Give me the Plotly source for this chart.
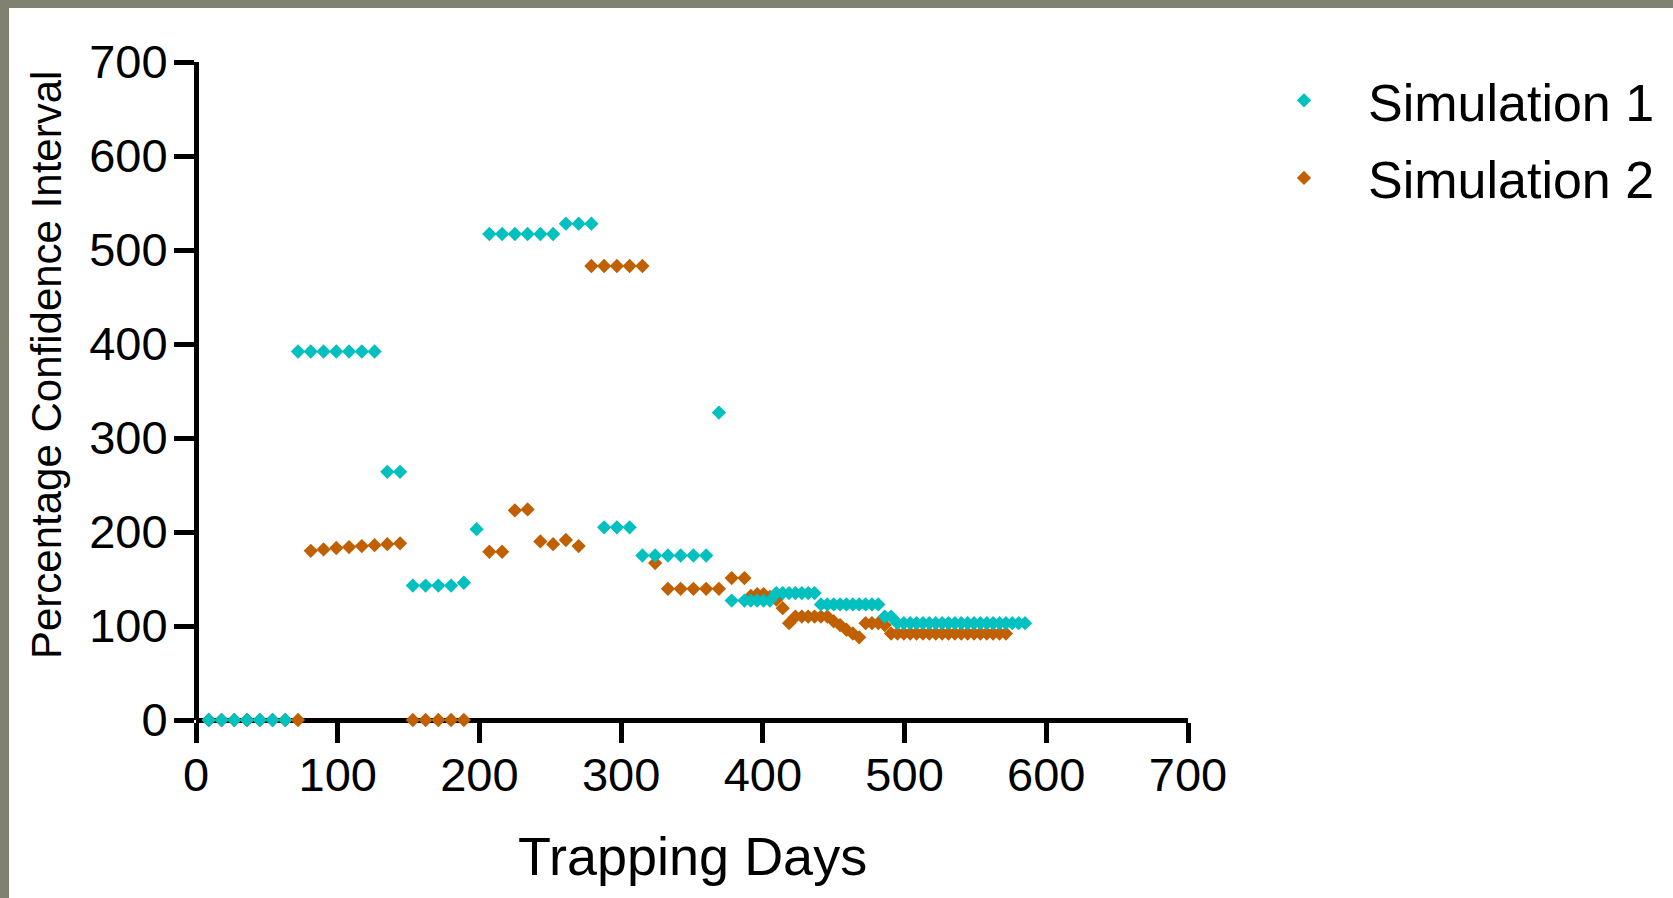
import plotly.graph_objects as go

# ---- data ----
sim1_days = [9, 18, 27, 36, 45, 54, 63,
             72, 81, 90, 99, 108, 117, 126,
             135, 144,
             153, 162, 171, 180, 189,
             198,
             207, 216, 225, 234, 243, 252,
             261, 270, 279,
             288, 297, 306,
             315, 324, 333, 342, 351, 360,
             369,
             378, 387, 391.5, 396, 400.5, 405,
             409.5, 414, 418.5, 423, 427.5, 432, 436.5,
             441, 445.5, 450, 454.5, 459, 463.5, 468, 472.5, 477, 481.5,
             486, 490.5,
             495, 499.5, 504, 508.5, 513, 517.5, 522, 526.5, 531, 535.5, 540,
             544.5, 549, 553.5, 558, 562.5, 567, 571.5, 576, 580.5, 585]
sim1_ci = [0, 0, 0, 0, 0, 0, 0,
           392, 392, 392, 392, 392, 392, 392,
           264, 264,
           143, 143, 143, 143, 146,
           203,
           517, 517, 517, 517, 517, 517,
           528, 528, 528,
           205, 205, 205,
           175, 175, 175, 175, 175, 175,
           327,
           127, 127, 127, 127, 127, 127,
           135, 135, 135, 135, 135, 135, 135,
           123, 123, 123, 123, 123, 123, 123, 123, 123, 123,
           110, 110,
           103, 103, 103, 103, 103, 103, 103, 103, 103, 103, 103,
           103, 103, 103, 103, 103, 103, 103, 103, 103, 103]

sim2_days = [9, 18, 27, 36, 45, 54, 63, 72,
             81, 90, 99, 108, 117, 126, 135, 144,
             153, 162, 171, 180, 189,
             207, 216,
             225, 234,
             243, 252, 261, 270,
             279, 288, 297, 306, 315,
             324,
             333, 342, 351, 360, 369,
             378, 387,
             391.5, 396, 400.5, 405, 409.5, 414, 418.5,
             423, 427.5, 432, 436.5, 441, 445.5,
             450, 454.5, 459, 463.5, 468,
             472.5, 477, 481.5, 486,
             490.5, 495, 499.5, 504, 508.5, 513, 517.5, 522, 526.5, 531,
             535.5, 540, 544.5, 549, 553.5, 558, 562.5, 567, 571.5]
sim2_ci = [0, 0, 0, 0, 0, 0, 0, 0,
           180, 181.5, 183, 184, 185, 186, 187, 188,
           0, 0, 0, 0, 0,
           179, 179,
           223, 224,
           190, 187, 191.5, 185,
           483, 483, 483, 483, 483,
           167,
           139.5, 139.5, 139.5, 139.5, 139.5,
           151, 151,
           132, 134, 134, 131, 128, 119, 103,
           110, 110, 110, 110, 110, 110,
           105, 101, 96, 92, 88,
           103, 103, 103, 101,
           92, 92, 92, 92, 92, 92, 92, 92, 92, 92,
           92, 92, 92, 92, 92, 92, 92, 92, 92]

series_names = ["Simulation 1", "Simulation 2"]
series_colors = ["#00C0C0", "#C06000"]
x_ticks = [0, 100, 200, 300, 400, 500, 600, 700]
y_ticks = [0, 100, 200, 300, 400, 500, 600, 700]

FONT = "Arial, 'Liberation Sans', Helvetica, sans-serif"
W, H = 1673, 898
ML, MR, MT, MB = 196, 485, 62, 178
PW, PH = W - ML - MR, H - MT - MB


def px_x(px):
    return (px - ML) / PW


def px_y(py):
    return (H - MB - py) / PH


fig = go.Figure()
# Simulation 2 drawn first so Simulation 1 sits on top (as in the reference)
for days, ci, name, color, rank in [
        (sim2_days, sim2_ci, series_names[1], series_colors[1], 2),
        (sim1_days, sim1_ci, series_names[0], series_colors[0], 1)]:
    fig.add_trace(go.Scatter(x=days, y=ci, mode="markers", name=name, legendgroup=name,
                             legendrank=rank,
                             marker=dict(symbol="diamond", size=11, color=color,
                                         line=dict(width=0)),
                             cliponaxis=False))

axis_common = dict(showline=True, linewidth=5, linecolor="black",
                   ticks="outside", ticklen=20, tickwidth=5, tickcolor="black",
                   showgrid=False, zeroline=False, anchor="free", position=0,
                   layer="below traces",
                   tickfont=dict(family=FONT, size=47, color="black"))

fig.update_layout(
    width=W, height=H,
    margin=dict(l=ML, r=MR, t=MT, b=MB, pad=0, autoexpand=False),
    paper_bgcolor="white", plot_bgcolor="white",
    showlegend=True,
    xaxis=dict(range=[0, 700], tickvals=x_ticks, ticklabelstandoff=-8, **axis_common),
    yaxis=dict(range=[0, 700], tickvals=y_ticks, ticklabelstandoff=-3, **axis_common),
    legend=dict(x=px_x(1240), y=px_y(60), xanchor="left", yanchor="top",
                itemwidth=118, bgcolor="rgba(0,0,0,0)", traceorder="grouped",
                tracegroupgap=7,
                font=dict(family=FONT, size=52, color="black")),
    annotations=[
        dict(text="Trapping Days", xref="paper", yref="paper", x=px_x(692), y=px_y(856),
             xanchor="center", yanchor="middle", showarrow=False,
             font=dict(family=FONT, size=54, color="black")),
        dict(text="Percentage Confidence Interval", xref="paper", yref="paper",
             x=px_x(46), y=px_y(365), textangle=-90,
             xanchor="center", yanchor="middle", showarrow=False,
             font=dict(family=FONT, size=42, color="black")),
    ],
    shapes=[
        dict(type="rect", xref="paper", yref="paper", layer="below",
             x0=px_x(0), x1=px_x(W), y0=px_y(8), y1=px_y(0),
             fillcolor="#818172", line=dict(width=0)),
        dict(type="rect", xref="paper", yref="paper", layer="below",
             x0=px_x(0), x1=px_x(9), y0=px_y(H), y1=px_y(0),
             fillcolor="#818172", line=dict(width=0)),
    ],
)

fig.write_html("out.html", config={"displayModeBar": False},
               post_script="document.body.style.margin='0';")
